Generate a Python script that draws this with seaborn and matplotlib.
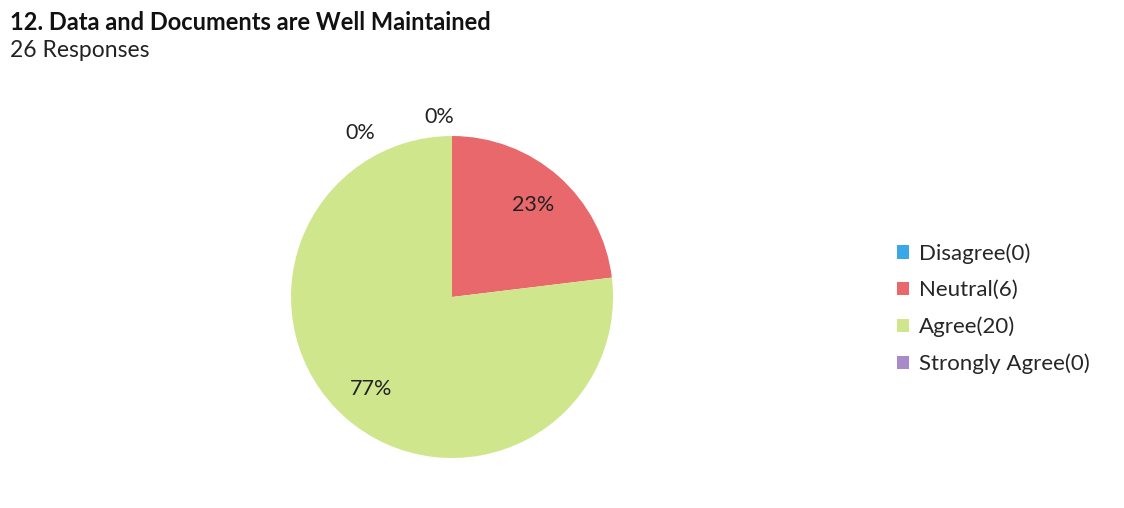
import matplotlib
matplotlib.use('Agg')
import matplotlib.pyplot as plt
import seaborn as sns

categories = ['Disagree', 'Neutral', 'Agree', 'Strongly Agree']
counts = [0, 6, 20, 0]
colors = ['#3AA8E6', '#E8686B', '#D0E68C', '#A88BC9']
title = '12. Data and Documents are Well Maintained'
subtitle = '26 Responses'

sns.set_style('white')
plt.rcParams['font.family'] = ['Lato', 'DejaVu Sans']

fig = plt.figure(figsize=(11.24, 5.08), dpi=100)
ax = fig.add_axes([0.2231, 0.0192, 0.3581, 0.7923])

wedges, texts, autotexts = ax.pie(
    counts, colors=colors, startangle=90, counterclock=False,
    autopct=lambda p: f'{p:.0f}%', pctdistance=0.76,
    textprops={'fontsize': 15.5, 'color': '#222222'},
    wedgeprops={'linewidth': 0})
ax.set_xlim(-1.25, 1.25)
ax.set_ylim(-1.25, 1.25)
ax.set_aspect('equal')

# zero-valued slices: move their labels outside the top of the pie
autotexts[0].set_position((-0.08, 1.12))
autotexts[3].set_position((-0.57, 1.02))

labels = [f'{c}({n})' for c, n in zip(categories, counts)]
fig.legend(wedges, labels, loc='center left', bbox_to_anchor=(0.78, 0.392),
           frameon=False, fontsize=16, handlelength=0.55, handleheight=0.55,
           handletextpad=0.45, labelspacing=0.74)

fig.text(0.009, 0.978, title, fontsize=17, fontweight='bold', va='top', ha='left', color='#111111')
fig.text(0.009, 0.922, subtitle, fontsize=16.5, va='top', ha='left', color='#222222')

fig.savefig('out.png', dpi=100)
